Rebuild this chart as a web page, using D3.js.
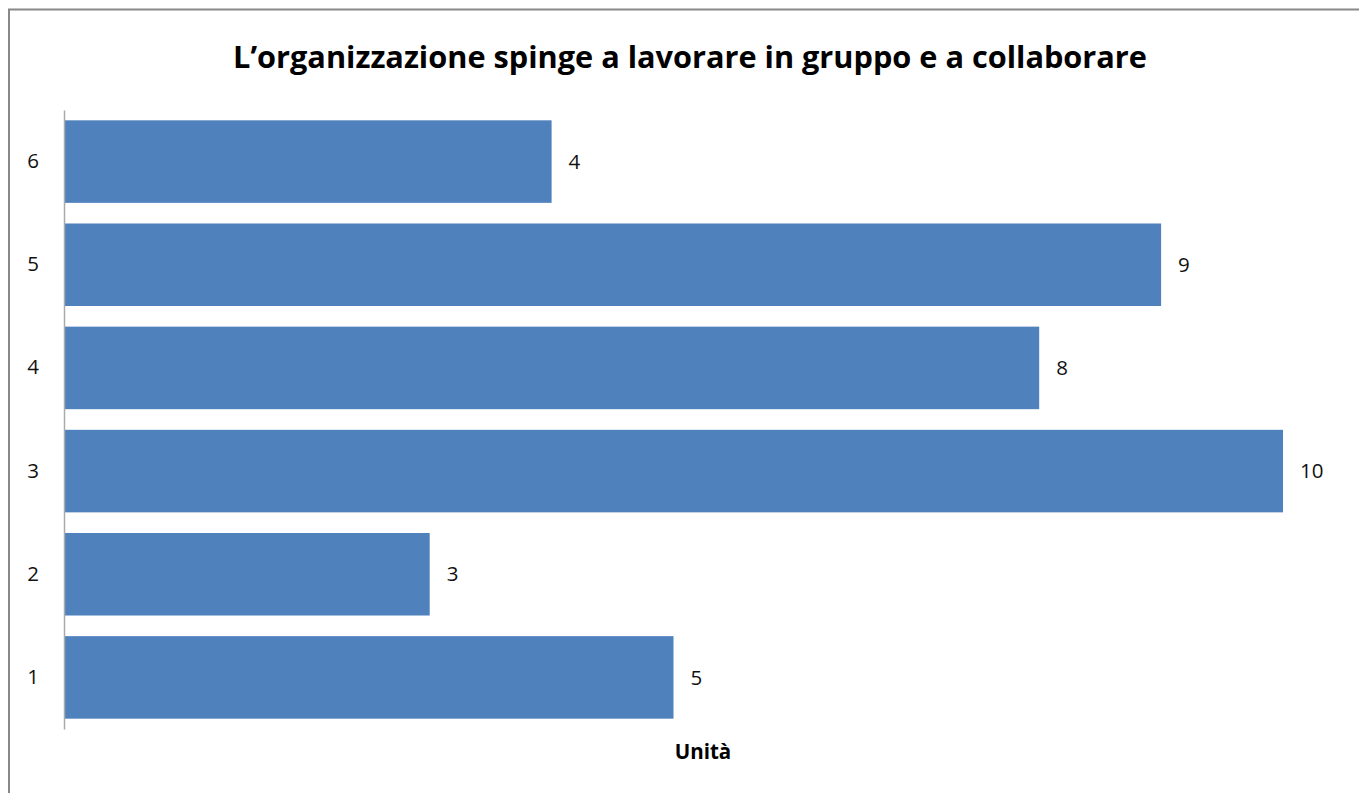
<!DOCTYPE html>
<html><head><meta charset="utf-8">
<script src="https://cdn.jsdelivr.net/npm/d3@7"></script>
<style>html,body{margin:0;padding:0;background:#fff;}svg{display:block;}</style>
</head><body>
<script>
const categories = ["1","2","3","4","5","6"];
const values = [5,3,10,8,9,4];
const titleText = "L’organizzazione spinge a lavorare in gruppo e a collaborare";
const axisTitle = "Unità";

const W = 1359, H = 793;
const svg = d3.select("body").append("svg").attr("width", W).attr("height", H);
svg.append("rect").attr("x",0).attr("y",0).attr("width",W).attr("height",H).attr("fill","#fff");
// outer chart border
svg.append("rect").attr("x",9).attr("y",9.5).attr("width",W+20).attr("height",H+20)
  .attr("fill","none").attr("stroke","#888").attr("stroke-width",2);

const x = d3.scaleLinear().domain([0,10]).range([64,1283]);
const y = d3.scaleBand().domain(categories.slice().reverse()).range([110,729]).paddingInner(0.2).paddingOuter(0.1);

const font = "'Open Sans', 'Liberation Sans', sans-serif";

svg.append("text").attr("x",690).attr("y",68).attr("text-anchor","middle")
  .attr("font-family",font).attr("font-weight","bold").attr("font-size",30.7).attr("fill","#000")
  .text(titleText);

svg.selectAll("rect.bar").data(values).enter().append("rect").attr("class","bar")
  .attr("x", x(0)).attr("y",(d,i)=>y(categories[i]))
  .attr("width", d=>x(d)-x(0)).attr("height", y.bandwidth())
  .attr("fill","#4F81BD");

svg.selectAll("text.val").data(values).enter().append("text").attr("class","val")
  .attr("x", d=>x(d)+17).attr("y",(d,i)=>y(categories[i])+y.bandwidth()/2)
  .attr("dy","0.35em").attr("font-family",font).attr("font-size",20.5).attr("fill","#111")
  .text(d=>d);

const yAxis = svg.append("g").attr("transform",`translate(${x(0)},0)`)
  .call(d3.axisLeft(y).tickSize(0).tickPadding(25));
yAxis.select(".domain").attr("stroke","#aaa").attr("stroke-width",1.5);
yAxis.selectAll("text").attr("font-family",font).attr("font-size",20.5).attr("fill","#111");

svg.append("text").attr("x",703).attr("y",759).attr("text-anchor","middle")
  .attr("font-family",font).attr("font-weight","bold").attr("font-size",20.5).attr("fill","#000")
  .text(axisTitle);
</script>
</body></html>
